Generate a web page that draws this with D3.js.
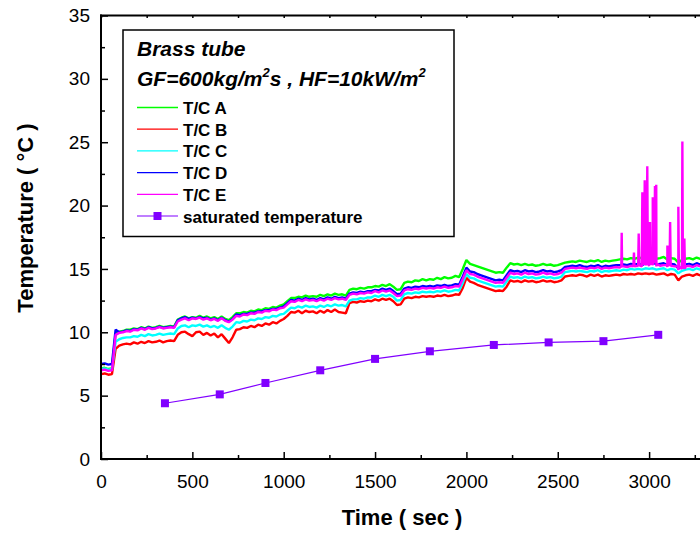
<!DOCTYPE html>
<html>
<head>
<meta charset="utf-8">
<script src="https://cdn.jsdelivr.net/npm/d3@7"></script>
<style>
  html, body { margin: 0; padding: 0; background: #fff; }
  svg { display: block; font-family: "Liberation Sans", Arial, sans-serif; }
</style>
</head>
<body>
<svg id="chart" width="700" height="534"></svg>
<script>
// Thermocouple readings, sampled every 20 s from 0 to 3300 s (°C)
const sampleStep = 20;
const tcA = [
  7.15, 7.2, 7.1, 7.15, 9.9, 10.05, 10.1, 10.2, 10.2, 10.3,
  10.25, 10.4, 10.3, 10.45, 10.35, 10.4, 10.5, 10.4, 10.45, 10.5,
  10.45, 11.0, 11.15, 11.25, 11.1, 11.2, 11.15, 11.3, 11.15, 11.25,
  11.1, 11.2, 11.05, 11.25, 11.05, 10.95, 11.2, 11.5, 11.5, 11.6,
  11.55, 11.7, 11.65, 11.8, 11.75, 11.9, 11.85, 12.0, 11.95, 12.1,
  12.2, 12.45, 12.7, 12.7, 12.8, 12.75, 12.9, 12.8, 12.85, 12.8,
  12.95, 12.85, 13.0, 12.9, 13.05, 12.95, 13.0, 12.9, 13.35, 13.45,
  13.4, 13.5, 13.45, 13.55, 13.55, 13.65, 13.6, 13.75, 13.65, 13.8,
  13.6, 13.35, 13.4, 13.9, 14.0, 13.95, 14.1, 14.05, 14.2, 14.1,
  14.2, 14.15, 14.3, 14.2, 14.35, 14.25, 14.3, 14.45, 14.35, 15.0,
  15.7, 15.4, 15.3, 15.2, 15.1, 15.0, 14.9, 14.8, 14.7, 14.75,
  14.7, 15.1, 15.45, 15.35, 15.4, 15.3, 15.4, 15.3, 15.35, 15.25,
  15.3, 15.4, 15.3, 15.35, 15.25, 15.3, 15.4, 15.5, 15.55, 15.6,
  15.55, 15.65, 15.6, 15.55, 15.65, 15.6, 15.7, 15.55, 15.65, 15.6,
  15.65, 15.7, 15.75, 15.8, 15.75, 15.85, 15.8, 15.9, 15.85, 15.9,
  15.85, 15.9, 15.8, 15.85, 15.95, 15.75, 15.85, 15.8, 15.5, 15.7,
  15.8, 15.85, 15.75, 15.9, 15.8, 15.85
];
const tcB = [
  6.7, 6.75, 6.65, 6.7, 8.7, 8.95, 9.05, 9.1, 9.05, 9.2,
  9.1, 9.25, 9.15, 9.3, 9.2, 9.25, 9.35, 9.2, 9.3, 9.35,
  9.3, 9.8, 10.0, 10.05, 9.85, 9.7, 10.0, 10.05, 9.8, 9.95,
  9.75, 9.9, 9.6, 9.85, 9.5, 9.15, 9.6, 10.2, 10.25, 10.4,
  10.35, 10.5, 10.4, 10.6, 10.5, 10.7, 10.6, 10.8, 10.7, 10.9,
  11.05, 11.3, 11.6, 11.55, 11.7, 11.5, 11.7, 11.6, 11.65, 11.5,
  11.7, 11.55, 11.75, 11.6, 11.8, 11.6, 11.55, 11.5, 12.3, 12.4,
  12.35, 12.45, 12.4, 12.5, 12.45, 12.6, 12.5, 12.65, 12.55, 12.65,
  12.45, 12.15, 12.2, 12.65, 12.75, 12.7, 12.8, 12.75, 12.85, 12.8,
  12.85, 12.8, 12.9, 12.85, 12.95, 12.85, 12.9, 13.0, 12.95, 13.5,
  14.3, 14.0, 13.9, 13.75, 13.65, 13.55, 13.45, 13.35, 13.25, 13.3,
  13.25, 13.6, 14.1, 14.0, 14.05, 13.95, 14.1, 14.0, 14.05, 13.95,
  14.0, 14.1, 14.0, 14.05, 13.95, 14.0, 14.1, 14.4, 14.45, 14.5,
  14.45, 14.55, 14.5, 14.4, 14.55, 14.45, 14.55, 14.4, 14.5, 14.45,
  14.5, 14.55, 14.5, 14.6, 14.55, 14.6, 14.55, 14.65, 14.6, 14.65,
  14.6, 14.65, 14.55, 14.6, 14.65, 14.5, 14.6, 14.55, 14.1, 14.4,
  14.5, 14.55, 14.45, 14.6, 14.5, 14.55
];
const tcC = [
  7.1, 7.15, 7.05, 7.1, 9.25, 9.45, 9.55, 9.6, 9.6, 9.7,
  9.65, 9.8, 9.7, 9.85, 9.75, 9.8, 9.9, 9.8, 9.85, 9.9,
  9.85, 10.3, 10.5, 10.55, 10.4, 10.55, 10.5, 10.6, 10.45, 10.55,
  10.4, 10.5, 10.35, 10.55, 10.35, 10.2, 10.45, 10.8, 10.75, 10.9,
  10.85, 11.0, 10.95, 11.1, 11.05, 11.2, 11.15, 11.3, 11.25, 11.4,
  11.45, 11.7, 11.95, 11.9, 12.05, 11.95, 12.1, 12.0, 12.05, 11.95,
  12.1, 12.0, 12.15, 12.05, 12.2, 12.1, 12.15, 12.05, 12.5, 12.6,
  12.6, 12.7, 12.65, 12.75, 12.75, 12.9, 12.8, 12.95, 12.85, 12.95,
  12.8, 12.5, 12.55, 13.0, 13.1, 13.05, 13.15, 13.1, 13.2, 13.15,
  13.2, 13.15, 13.25, 13.2, 13.3, 13.2, 13.25, 13.35, 13.3, 13.9,
  14.6, 14.3, 14.25, 14.1, 14.0, 13.9, 13.8, 13.7, 13.6, 13.65,
  13.6, 14.0, 14.4, 14.3, 14.35, 14.25, 14.4, 14.3, 14.35, 14.25,
  14.3, 14.4, 14.3, 14.35, 14.25, 14.3, 14.4, 14.75, 14.8, 14.85,
  14.8, 14.85, 14.8, 14.75, 14.85, 14.8, 14.9, 14.75, 14.85, 14.8,
  14.85, 14.9, 14.85, 14.95, 14.9, 15.0, 14.95, 15.0, 14.95, 15.05,
  15.0, 15.05, 14.95, 15.0, 15.05, 14.9, 15.0, 14.95, 14.65, 14.85,
  14.95, 15.0, 14.9, 15.05, 14.95, 15.0
];
const tcD = [
  7.5, 7.55, 7.45, 7.5, 10.2, 10.0, 10.05, 10.15, 10.1, 10.25,
  10.2, 10.35, 10.25, 10.4, 10.3, 10.35, 10.45, 10.35, 10.4, 10.45,
  10.4, 10.95, 11.1, 11.2, 11.05, 11.15, 11.1, 11.2, 11.1, 11.15,
  11.0, 11.1, 10.95, 11.15, 10.95, 10.85, 11.05, 11.4, 11.35, 11.45,
  11.45, 11.55, 11.55, 11.65, 11.65, 11.75, 11.75, 11.85, 11.85, 11.95,
  12.05, 12.3, 12.55, 12.5, 12.65, 12.55, 12.7, 12.6, 12.65, 12.55,
  12.7, 12.6, 12.75, 12.65, 12.8, 12.7, 12.75, 12.65, 13.05, 13.15,
  13.1, 13.2, 13.15, 13.25, 13.25, 13.35, 13.3, 13.45, 13.35, 13.45,
  13.25, 13.0, 13.05, 13.45, 13.55, 13.5, 13.6, 13.55, 13.65, 13.6,
  13.65, 13.6, 13.7, 13.65, 13.75, 13.65, 13.7, 13.8, 13.75, 14.4,
  15.1, 14.8, 14.75, 14.6, 14.5, 14.4, 14.3, 14.2, 14.1, 14.15,
  14.1, 14.5, 14.9, 14.8, 14.85, 14.75, 14.9, 14.8, 14.85, 14.75,
  14.8, 14.9, 14.8, 14.85, 14.75, 14.8, 14.9, 15.15, 15.2, 15.25,
  15.2, 15.3, 15.2, 15.15, 15.25, 15.2, 15.3, 15.15, 15.25, 15.2,
  15.25, 15.3, 15.3, 15.35, 15.3, 15.4, 15.35, 15.4, 15.35, 15.45,
  15.4, 15.45, 15.35, 15.4, 15.45, 15.3, 15.4, 15.35, 15.05, 15.25,
  15.35, 15.4, 15.3, 15.45, 15.35, 15.4
];
const tcE = [
  7.0, 7.05, 6.95, 7.0, 9.8, 9.95, 10.0, 10.1, 10.05, 10.2,
  10.15, 10.3, 10.2, 10.35, 10.25, 10.3, 10.4, 10.3, 10.35, 10.4,
  10.35, 10.85, 11.0, 11.1, 10.95, 11.1, 11.05, 11.15, 11.0, 11.1,
  10.95, 11.05, 10.9, 11.1, 10.9, 10.8, 11.0, 11.3, 11.25, 11.4,
  11.35, 11.5, 11.45, 11.6, 11.55, 11.7, 11.65, 11.8, 11.75, 11.9,
  11.95, 12.2, 12.45, 12.4, 12.55, 12.45, 12.6, 12.5, 12.55, 12.45,
  12.6, 12.5, 12.65, 12.55, 12.7, 12.6, 12.65, 12.55, 12.95, 13.05,
  13.0, 13.1, 13.05, 13.15, 13.1, 13.25, 13.15, 13.3, 13.2, 13.3,
  13.1, 12.85, 12.9, 13.3, 13.4, 13.35, 13.45, 13.4, 13.5, 13.45,
  13.5, 13.45, 13.55, 13.5, 13.6, 13.5, 13.55, 13.65, 13.6, 14.2,
  14.9, 14.6, 14.55, 14.4, 14.3, 14.2, 14.1, 14.0, 13.9, 13.95,
  13.9, 14.3, 14.7, 14.6, 14.65, 14.55, 14.7, 14.6, 14.65, 14.55,
  14.6, 14.7, 14.6, 14.65, 14.55, 14.6, 14.7, 15.0, 15.05, 15.1,
  15.05, 15.1, 15.05, 15.0, 15.1, 15.05, 15.15, 15.0, 15.1, 15.05,
  15.1, 15.15, 15.1, 15.2, 15.15, 15.25, 15.2, 15.25, 15.2, 15.3,
  15.25, 15.3, 15.2, 15.25, 15.3, 15.15, 15.25, 15.2, 14.9, 15.1,
  15.2, 15.25, 15.15, 15.3, 15.2, 15.25
];
// Short bursts recorded between the regular samples: [time s, °C]
const burstsD = [
  [2967, 15.3], [2970, 16.2], [2973, 15.35], [3028, 15.4], [3032, 17.8],
  [3036, 15.4], [3178, 15.1], [3182, 16.0], [3186, 15.1]
];
const burstsE = [
  [2848, 15.2], [2850, 17.85], [2852, 15.2], [2914, 15.2], [2917, 16.3],
  [2920, 15.2], [2940, 15.2], [2943, 17.8], [2946, 15.3], [2960, 15.3],
  [2963, 21.05], [2966, 15.4], [2973, 15.4], [2976, 22.0], [2979, 15.5],
  [2987, 15.5], [2990, 23.1], [2993, 15.4], [3002, 15.4], [3005, 18.7],
  [3008, 15.4], [3017, 15.4], [3020, 20.65], [3024, 15.5], [3029, 15.5],
  [3032, 21.55], [3035, 16.0], [3039, 21.65], [3042, 15.4], [3097, 15.3],
  [3100, 16.85], [3103, 15.3], [3112, 15.3], [3115, 18.7], [3118, 15.3],
  [3157, 15.2], [3160, 19.9], [3163, 15.2], [3179, 15.0], [3182, 25.05],
  [3185, 15.0], [3193, 17.4], [3196, 15.0]
];
// Saturation temperature
const satTime = [350, 650, 900, 1200, 1500, 1800, 2150, 2450, 2750, 3050];
const satTemp = [4.4, 5.1, 6.0, 7.0, 7.9, 8.5, 9.0, 9.2, 9.3, 9.8];

const seriesNames = ["T/C A", "T/C B", "T/C C", "T/C D", "T/C E"];
const seriesColors = ["#00ff00", "#ff0000", "#00ffff", "#0000ff", "#ff00ff"];
const xMajorTicks = [0, 500, 1000, 1500, 2000, 2500, 3000];
const xMinorTicks = [250, 750, 1250, 1750, 2250, 2750, 3250];
const yMajorTicks = [0, 5, 10, 15, 20, 25, 30, 35];
const yMinorTicks = [2.5, 7.5, 12.5, 17.5, 22.5, 27.5, 32.5];

const svg = d3.select("#chart");
const plotLeft = 101, plotBottom = 459, plotTop = 15.5, plotRight = 701;
const x = d3.scaleLinear().domain([0, 3284]).range([plotLeft, plotRight]);
const y = d3.scaleLinear().domain([0, 35]).range([plotBottom, plotTop]);

function toPoints(values, extra) {
  const pts = values.map((v, i) => [i * sampleStep, v]);
  if (extra) pts.push(...extra);
  return pts.sort((a, b) => a[0] - b[0]);
}
const series = [
  toPoints(tcA), toPoints(tcB), toPoints(tcC),
  toPoints(tcD, burstsD), toPoints(tcE, burstsE)
];

svg.append("clipPath").attr("id", "plotClip")
  .append("rect").attr("x", plotLeft).attr("y", plotTop)
  .attr("width", plotRight - plotLeft).attr("height", plotBottom - plotTop);

const line = d3.line().x(d => x(d[0])).y(d => y(d[1]));
const plot = svg.append("g").attr("clip-path", "url(#plotClip)");
series.forEach((pts, i) => {
  plot.append("path").datum(pts)
    .attr("d", line)
    .attr("fill", "none")
    .attr("stroke", seriesColors[i])
    .attr("stroke-width", 2.4)
    .attr("stroke-linejoin", "bevel");
});

// Saturation temperature line with square markers
const satColor = "#8000ff";
const satPts = satTime.map((t, i) => [t, satTemp[i]]);
plot.append("path").datum(satPts)
  .attr("d", line).attr("fill", "none")
  .attr("stroke", satColor).attr("stroke-width", 1.2);
plot.selectAll("rect.sat").data(satPts).join("rect")
  .attr("class", "sat")
  .attr("x", d => x(d[0]) - 4).attr("y", d => y(d[1]) - 4)
  .attr("width", 8).attr("height", 8)
  .attr("fill", satColor);

// Axes
const axisColor = "#000";
const tickFont = 19;
const gx = svg.append("g").attr("transform", `translate(0,${plotBottom})`);
gx.call(d3.axisBottom(x).tickValues(xMajorTicks).tickSizeInner(-7).tickSizeOuter(0)
  .tickPadding(16).tickFormat(d3.format("d")));
gx.append("g").call(d3.axisBottom(x).tickValues(xMinorTicks).tickSizeInner(-4)
  .tickSizeOuter(0).tickFormat(""));
gx.selectAll(".domain").remove();
gx.append("line").attr("x1", plotLeft - 1).attr("x2", 700).attr("y1", 0).attr("y2", 0)
  .attr("stroke", axisColor).attr("stroke-width", 2);

const gy = svg.append("g").attr("transform", `translate(${plotLeft},0)`);
gy.call(d3.axisLeft(y).tickValues(yMajorTicks).tickSizeInner(-7).tickSizeOuter(0)
  .tickPadding(11).tickFormat(d3.format("d")));
gy.append("g").call(d3.axisLeft(y).tickValues(yMinorTicks).tickSizeInner(-4)
  .tickSizeOuter(0).tickFormat(""));
gy.selectAll(".domain").remove();
gy.append("line").attr("x1", 0).attr("x2", 0).attr("y1", plotTop - 1).attr("y2", plotBottom + 1)
  .attr("stroke", axisColor).attr("stroke-width", 2);

// Top frame with short inward ticks
const gt = svg.append("g").attr("transform", `translate(0,${plotTop})`);
gt.call(d3.axisTop(x).tickValues(xMajorTicks.concat(xMinorTicks)).tickSizeInner(-2.5)
  .tickSizeOuter(0).tickFormat(""));
gt.selectAll(".domain").remove();
gt.append("line").attr("x1", plotLeft - 1).attr("x2", 700).attr("y1", 0).attr("y2", 0)
  .attr("stroke", axisColor).attr("stroke-width", 2);

svg.selectAll(".tick line").attr("stroke", axisColor).attr("stroke-width", 1.5);
svg.selectAll(".tick text").attr("fill", "#000")
  .style("font-size", tickFont + "px")
  .style("font-family", '"Liberation Sans", Arial, sans-serif');

// Axis titles
svg.append("text").attr("x", 402).attr("y", 525)
  .attr("text-anchor", "middle")
  .style("font-size", "22px").style("font-weight", "bold")
  .text("Time ( sec )");
svg.append("text")
  .attr("transform", "translate(33,218) rotate(-90)")
  .attr("text-anchor", "middle")
  .style("font-size", "22px").style("font-weight", "bold")
  .text("Temperature ( \u00B0C )");

// Legend
const legend = svg.append("g");
legend.append("rect").attr("x", 123).attr("y", 30)
  .attr("width", 331).attr("height", 206.5)
  .attr("fill", "#fff").attr("stroke", "#000").attr("stroke-width", 1.5);
legend.append("text").attr("x", 137).attr("y", 56)
  .style("font-size", "21px").style("font-weight", "bold").style("font-style", "italic")
  .text("Brass tube");
const cond = legend.append("text").attr("x", 137).attr("y", 86)
  .style("font-size", "21px").style("font-weight", "bold").style("font-style", "italic");
cond.append("tspan").text("GF=600kg/m");
cond.append("tspan").attr("dy", -9).style("font-size", "13px").text("2");
cond.append("tspan").attr("dy", 9).text("s , HF=10kW/m");
cond.append("tspan").attr("dy", -9).style("font-size", "13px").text("2");

const rowY = i => 107.5 + i * 21.7;
seriesNames.forEach((name, i) => {
  legend.append("line").attr("x1", 137).attr("x2", 178)
    .attr("y1", rowY(i)).attr("y2", rowY(i))
    .attr("stroke", seriesColors[i]).attr("stroke-width", 1.3);
  legend.append("text").attr("x", 183).attr("y", rowY(i) + 6.5)
    .style("font-size", "17px").style("font-weight", "bold")
    .text(name);
});
const satRow = rowY(5);
legend.append("line").attr("x1", 137).attr("x2", 178)
  .attr("y1", satRow).attr("y2", satRow)
  .attr("stroke", satColor).attr("stroke-width", 1.2);
legend.append("rect").attr("x", 157.5 - 4).attr("y", satRow - 4)
  .attr("width", 8).attr("height", 8).attr("fill", satColor);
legend.append("text").attr("x", 183).attr("y", satRow + 6.5)
  .style("font-size", "17px").style("font-weight", "bold")
  .text("saturated temperature");
</script>
</body>
</html>
